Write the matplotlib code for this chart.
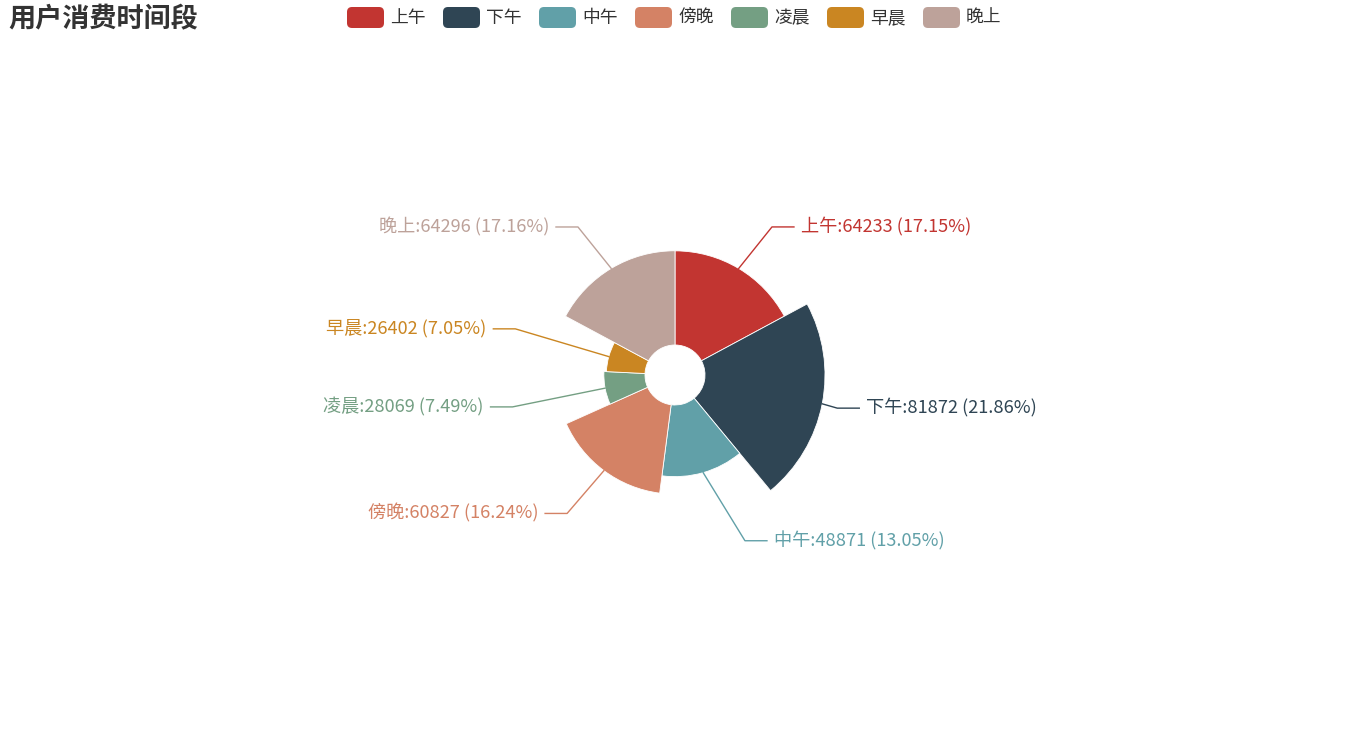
import numpy as np
import matplotlib
matplotlib.use('Agg')
import matplotlib.pyplot as plt
from matplotlib.patches import Wedge, FancyBboxPatch

plt.rcParams['font.family'] = ['Noto Sans CJK SC', 'DejaVu Sans']

title = '用户消费时间段'
names = ['上午', '下午', '中午', '傍晚', '凌晨', '早晨', '晚上']
values = [64233, 81872, 48871, 60827, 28069, 26402, 64296]
colors = ['#c23531', '#2f4554', '#61a0a8', '#d48265', '#749f83', '#ca8622', '#bda29a']


def percents(vals, digits=2):
    # largest remainder rounding, so the shares add up to 100
    scale = 10 ** digits
    raw = np.asarray(vals, dtype=float) / np.sum(vals) * 100 * scale
    base = np.floor(raw)
    left = int(round(100 * scale - base.sum()))
    order = np.argsort(-(raw - base))
    base[order[:left]] += 1
    return base / scale


fig = plt.figure(figsize=(13.5, 7.5), dpi=100)
ax = fig.add_axes([0, 0, 1, 1])
ax.set_xlim(0, 1350)
ax.set_ylim(750, 0)
ax.axis('off')

# rose chart (radius mode), pixel coordinates
cx, cy = 675, 375
r0, rmax = 30, 150
vals = np.array(values, dtype=float)
total = vals.sum()
vmax = vals.max()
pcts = percents(values)
angles = vals / total * 360
starts = np.concatenate([[0], np.cumsum(angles)[:-1]])

for name, v, p, c, a0, da in zip(names, vals, pcts, colors, starts, angles):
    r = r0 + (rmax - r0) * v / vmax
    ax.add_patch(Wedge((cx, cy), r, -90 + a0, -90 + a0 + da, width=r - r0,
                       facecolor=c, edgecolor='white', linewidth=0.6))
    mid = np.deg2rad(a0 + da / 2)
    sx, sy = np.sin(mid), -np.cos(mid)
    side = 1 if sx >= 0 else -1
    x1, y1 = cx + r * sx, cy + r * sy
    # label elbows sit on an ellipse around the chart
    dy = 172.5 * sy
    dx = 165 * np.sqrt(max(0.0, 1 - (dy / 183) ** 2))
    x2, y2 = cx + side * dx, cy + dy
    x3 = x2 + side * 22
    ax.plot([x1, x2, x3], [y1, y2, y2], color=c, lw=1)
    label = f'{name}:{int(v)} ({p:.2f}%)'
    ax.text(x3 + side * 7, y2, label, color=c, fontsize=13.1,
            ha='left' if side > 0 else 'right', va='center')

# title
ax.text(8, 19, title, fontsize=19.5, fontweight='bold', color='#333333',
        ha='left', va='center')

# legend
lx, step = 347, 96
for i, (name, c) in enumerate(zip(names, colors)):
    x = lx + i * step
    ax.add_patch(FancyBboxPatch((x + 3, 10), 31, 15,
                                boxstyle='round,pad=3,rounding_size=5',
                                facecolor=c, edgecolor='none'))
    ax.text(x + 43, 18, name, fontsize=12.8, color='#333333',
            ha='left', va='center')

fig.savefig('out.png', dpi=100)
